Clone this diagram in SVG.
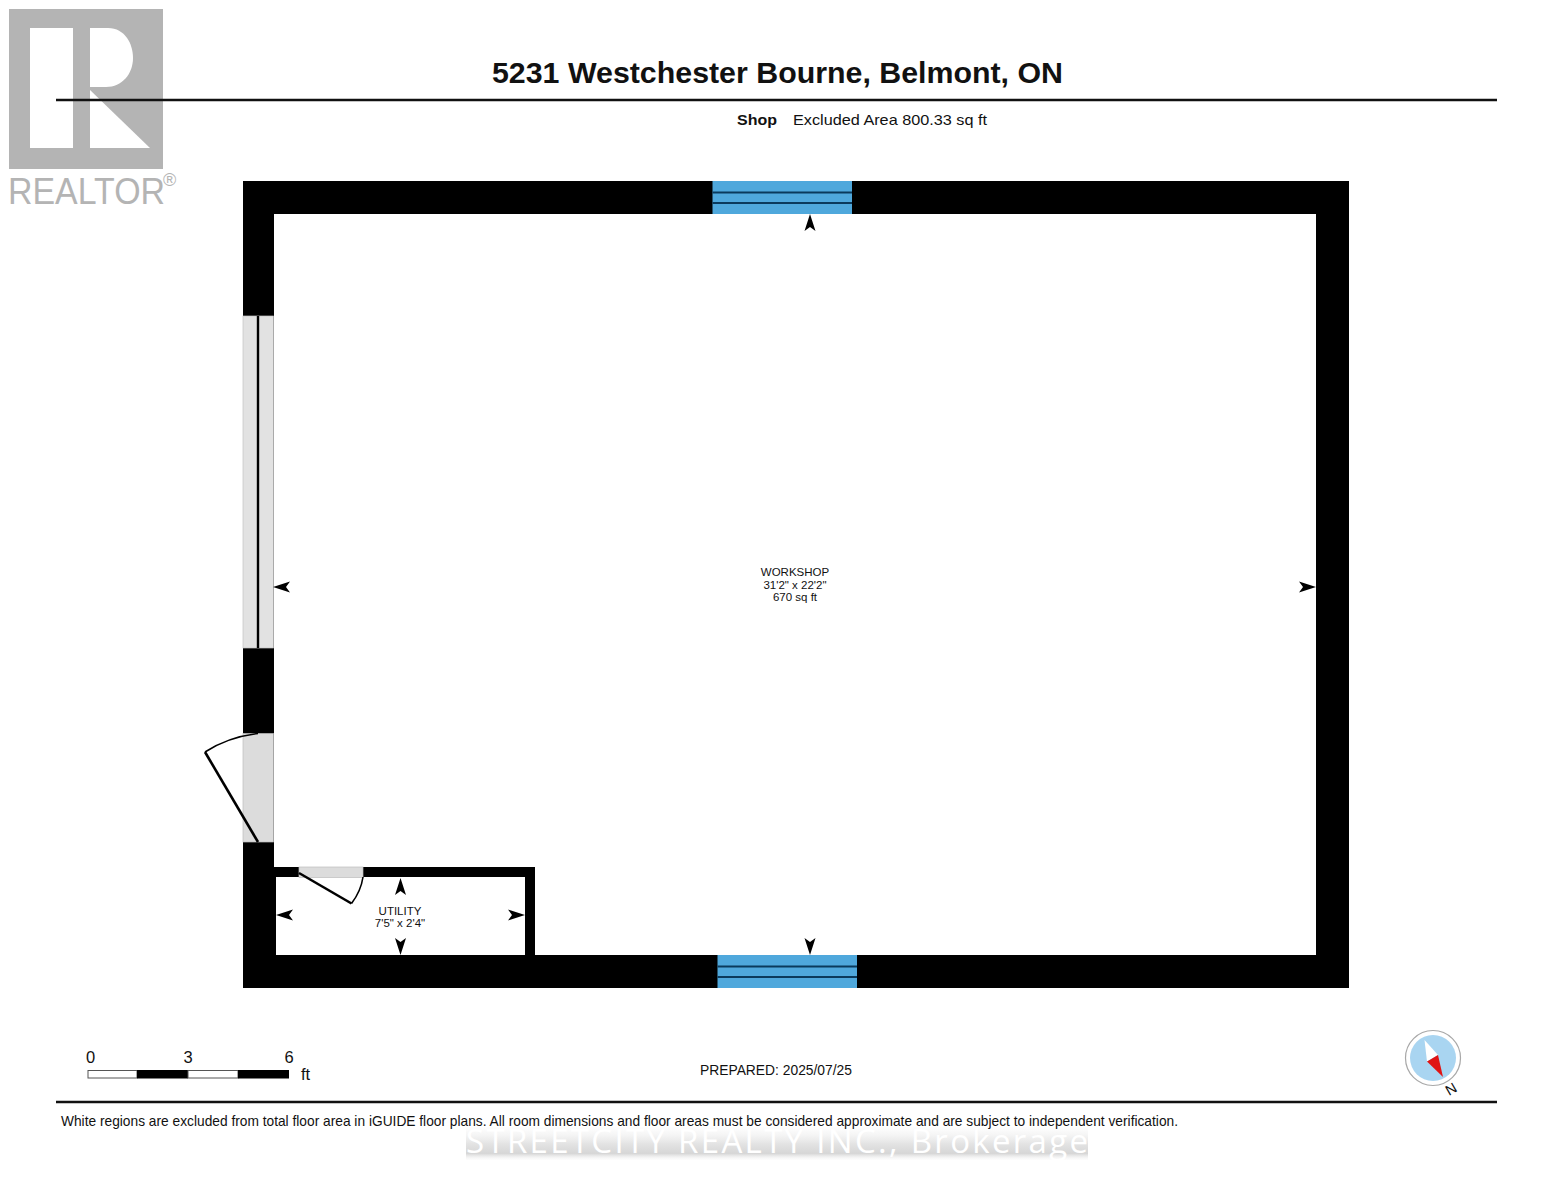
<svg xmlns="http://www.w3.org/2000/svg" width="1553" height="1200" viewBox="0 0 1553 1200">
<style>
text{font-family:"Liberation Sans",Arial,sans-serif;fill:#111}
.wall{fill:#000}
.glass{fill:#4fa8dc}
.gl{stroke:#0b3a5c;stroke-width:2;fill:none}
.door{fill:#dcdcdc;stroke:#bdbdbd;stroke-width:.7}
.leaf{stroke:#000;fill:none;stroke-width:2.6}
.arc{stroke:#000;fill:none;stroke-width:1.6}
.room{font-size:11.500px;text-anchor:middle}
.rule{stroke:#111;stroke-width:2.600}
.sc{font-size:16.500px;text-anchor:middle}
</style>
<defs>
<path id="ah" d="M0,0L5.500,17L0,13L-5.500,17Z" fill="#000"/>
<linearGradient id="wm" x1="0" y1="0" x2="0" y2="1"><stop offset="0" stop-color="#f4f4f4" stop-opacity=".15"/><stop offset=".5" stop-color="#e4e4e4"/><stop offset=".8" stop-color="#d6d6d6"/><stop offset="1" stop-color="#f4f4f4" stop-opacity=".2"/></linearGradient>
</defs>
<rect width="1553" height="1200" fill="#fff"/>

<g id="realtor-logo">
<rect x="9" y="9" width="154" height="160" fill="#b4b4b4"/>
<rect x="30" y="28" width="43" height="120" fill="#fff"/>
<path d="M90,28H108C125,28 133,44 133,58C133,74 122,87 106,87H90Z" fill="#fff"/>
<path d="M90,90L150,148H90Z" fill="#fff"/>
<text x="8" y="204" font-size="36" textLength="157" lengthAdjust="spacingAndGlyphs" style="fill:#b4b4b4">REALTOR</text>
<text x="163" y="186" font-size="18" style="fill:#b4b4b4">®</text>
</g>

<g id="header">
<line class="rule" x1="56" y1="100" x2="1497" y2="100"/>
<text x="777.500" y="83" font-size="29" font-weight="700" text-anchor="middle" textLength="571" lengthAdjust="spacingAndGlyphs">5231 Westchester Bourne, Belmont, ON</text>
<text x="737" y="125" font-size="15" font-weight="700" textLength="40" lengthAdjust="spacingAndGlyphs">Shop</text>
<text x="793" y="125" font-size="15" textLength="194" lengthAdjust="spacingAndGlyphs">Excluded Area 800.33 sq ft</text>
</g>

<g id="walls">
<path class="wall" fill-rule="evenodd" d="M243,181H1349V988H243ZM274,214V955H1316V214Z"/>
<rect class="wall" x="274" y="867" width="261" height="10"/>
<rect class="wall" x="525" y="867" width="10" height="88"/>
<rect class="wall" x="274" y="867" width="2" height="88"/>
</g>

<g id="window-top">
<rect class="glass" x="712.500" y="181" width="139.500" height="33"/>
<path class="gl" d="M712.500,192.500H852M712.500,203H852"/>
</g>
<g id="window-bottom">
<rect class="glass" x="717.500" y="955" width="139.500" height="33"/>
<path class="gl" d="M717.500,966.500H857M717.500,977H857"/>
</g>

<g id="sliding-door">
<rect x="243" y="316" width="30.500" height="332" fill="#e2e2e2" stroke="#c4c4c4" stroke-width=".7"/>
<line x1="258" y1="316" x2="258" y2="648" stroke="#000" stroke-width="2.400"/>
</g>
<g id="entry-door">
<rect class="door" x="243" y="733.500" width="30.500" height="108.500"/>
<path class="leaf" d="M258,842L205,752"/>
<path class="arc" d="M205,752Q228,737 258,733.500"/>
</g>
<g id="utility-door">
<rect class="door" x="299" y="867" width="64" height="10.500"/>
<path class="leaf" d="M299,873L351.500,903.500" stroke-width="2"/>
<path class="arc" d="M351.500,903.500Q361,891 363,877"/>
</g>

<g id="workshop">
<text class="room" x="795" y="576">WORKSHOP</text>
<text class="room" x="795" y="589">31'2" x 22'2"</text>
<text class="room" x="795" y="601">670 sq ft</text>
</g>
<g id="utility">
<text class="room" x="400" y="915">UTILITY</text>
<text class="room" x="400" y="927">7'5" x 2'4"</text>
</g>

<g id="connectors">
<use href="#ah" transform="translate(810,214)"/>
<use href="#ah" transform="translate(810,955) rotate(180)"/>
<use href="#ah" transform="translate(273,587) rotate(-90)"/>
<use href="#ah" transform="translate(1316,587) rotate(90)"/>
<use href="#ah" transform="translate(400.500,878)"/>
<use href="#ah" transform="translate(400.500,955) rotate(180)"/>
<use href="#ah" transform="translate(276,915) rotate(-90)"/>
<use href="#ah" transform="translate(525,915) rotate(90)"/>
</g>

<g id="scale-bar">
<text class="sc" x="90.500" y="1063">0</text>
<text class="sc" x="188" y="1063">3</text>
<text class="sc" x="289" y="1063">6</text>
<text x="301" y="1080" font-size="16.500">ft</text>
<rect x="88" y="1070.500" width="49" height="7.500" fill="#fff" stroke="#555" stroke-width="1"/>
<rect x="137" y="1070" width="51" height="8.500" fill="#000"/>
<rect x="188" y="1070.500" width="50" height="7.500" fill="#fff" stroke="#555" stroke-width="1"/>
<rect x="238" y="1070" width="51" height="8.500" fill="#000"/>
</g>

<g id="prepared">
<text x="700" y="1075" font-size="14" textLength="152" lengthAdjust="spacingAndGlyphs">PREPARED: 2025/07/25</text>
</g>

<g id="compass">
<circle cx="1433" cy="1058" r="27.500" fill="#fff" stroke="#a8a8a8" stroke-width="1.200"/>
<circle cx="1433" cy="1058" r="23" fill="#a9d5f1"/>
<path d="M1424.500,1040L1438,1055L1427,1061.500Z" fill="#fff"/>
<path d="M1427,1061.500L1438,1055L1443,1077Z" fill="#e01414"/>
<text x="1451" y="1094" font-size="14.500" text-anchor="middle" transform="rotate(-30 1451 1089)">N</text>
</g>

<g id="footer">
<line class="rule" x1="56" y1="1102" x2="1497" y2="1102"/>
<rect x="466" y="1127" width="622" height="33" fill="url(#wm)"/>
<text x="61" y="1126" font-size="14.300" textLength="1117" lengthAdjust="spacingAndGlyphs">White regions are excluded from total floor area in iGUIDE floor plans. All room dimensions and floor areas must be considered approximate and are subject to independent verification.</text>
<text x="466" y="1153" font-size="33" textLength="622" lengthAdjust="spacing" style="fill:#fff;font-family:'Open Sans','Liberation Sans',sans-serif">STREETCITY REALTY INC., Brokerage</text>
</g>
</svg>
